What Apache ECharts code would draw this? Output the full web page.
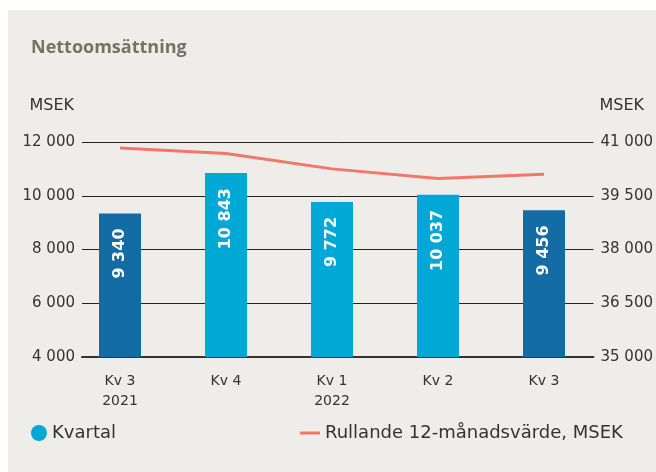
<!DOCTYPE html>
<html>
<head>
<meta charset="utf-8">
<script src="https://cdn.jsdelivr.net/npm/echarts@6/dist/echarts.min.js"></script>
<style>
html,body{margin:0;padding:0;background:#ffffff;}
#chart{position:absolute;left:8px;top:10px;width:648px;height:462px;background:#efedea;}
</style>
</head>
<body>
<div id="chart"></div>
<script>
var categories = ['Kv 3\n2021', 'Kv 4', 'Kv 1\n2022', 'Kv 2', 'Kv 3'];
var quarterValues = [9340, 10843, 9772, 10037, 9456];
var rollingValues = [40830, 40680, 40250, 39980, 40100];
var leftTicks = {min: 4000, max: 12000, interval: 2000};
var rightTicks = {min: 35000, max: 41000, interval: 1500};

function fmt(v) { return String(v).replace(/\B(?=(\d{3})+(?!\d))/g, ' '); }

var FONT = 'DejaVu Sans';
var TXT = '#333333';
var chart = echarts.init(document.getElementById('chart'), null, {renderer: 'canvas'});
chart.setOption({
  backgroundColor: '#efedea',
  animation: false,
  textStyle: {fontFamily: FONT},
  title: {
    text: 'Nettoomsättning', left: 18, top: 24,
    textStyle: {fontFamily: 'Open Sans', fontSize: 18, fontWeight: 'bold', color: '#7a706b'}
  },
  legend: [
    {data: ['Kvartal'], left: 23, top: 414, padding: 0, icon: 'circle', itemWidth: 16, itemHeight: 16,
     textStyle: {fontFamily: FONT, fontSize: 18, color: TXT}},
    {data: ['Rullande 12-månadsvärde, MSEK'], left: 292, top: 414, padding: 0, icon: 'rect', itemWidth: 20, itemHeight: 3,
     textStyle: {fontFamily: FONT, fontSize: 18, color: TXT}}
  ],
  grid: [
    {left: 59, right: 59, top: 132, bottom: 115},
    {left: 74, right: 59, top: 132, bottom: 115}
  ],
  xAxis: [
    {type: 'category', gridIndex: 0, data: categories,
     axisLine: {show: false}, axisTick: {show: false},
     axisLabel: {margin: 14, fontFamily: FONT, fontSize: 14, color: TXT, lineHeight: 20}},
    {type: 'value', gridIndex: 1, min: 0, max: 1, axisLabel: {show: false}, axisTick: {show: false},
     splitLine: {show: false}, axisLine: {show: true, lineStyle: {color: '#333333', width: 2}}}
  ],
  yAxis: [
    {type: 'value', gridIndex: 0, min: leftTicks.min, max: leftTicks.max, interval: leftTicks.interval, show: false},
    {type: 'value', gridIndex: 0, min: rightTicks.min, max: rightTicks.max, interval: rightTicks.interval, show: false},
    {type: 'value', gridIndex: 1, position: 'left', min: leftTicks.min, max: leftTicks.max, interval: leftTicks.interval,
     name: 'MSEK', nameLocation: 'end', nameGap: 28,
     nameTextStyle: {fontFamily: FONT, fontSize: 16, color: TXT, align: 'right', padding: [0, 8, 0, 0]},
     axisLine: {show: false}, axisTick: {show: false},
     axisLabel: {margin: 7, fontFamily: FONT, fontSize: 15, color: TXT, formatter: fmt},
     splitLine: {show: true, lineStyle: {color: '#222222', width: 1}}},
    {type: 'value', gridIndex: 1, position: 'right', min: rightTicks.min, max: rightTicks.max, interval: rightTicks.interval,
     name: 'MSEK', nameLocation: 'end', nameGap: 28,
     nameTextStyle: {fontFamily: FONT, fontSize: 16, color: TXT, align: 'left', padding: [0, 0, 0, 6]},
     axisLine: {show: false}, axisTick: {show: false},
     axisLabel: {margin: 7, fontFamily: FONT, fontSize: 15, color: TXT, formatter: fmt},
     splitLine: {show: false}}
  ],
  series: [
    {name: 'Kvartal', type: 'bar', xAxisIndex: 0, yAxisIndex: 0, data: quarterValues, barWidth: 42,
     color: '#00a8d5',
     itemStyle: {color: function (p) { return p.name.indexOf('Kv 3') === 0 ? '#136ca4' : '#00a8d5'; }},
     label: {show: true, position: 'insideTop', rotate: 90, align: 'right', verticalAlign: 'middle', distance: 15,
       fontFamily: FONT, fontSize: 16, fontWeight: 'bold', color: '#ffffff',
       formatter: function (p) { return fmt(p.value); }}},
    {name: 'Rullande 12-månadsvärde, MSEK', type: 'line', xAxisIndex: 0, yAxisIndex: 1, data: rollingValues,
     color: '#f2766a', symbol: 'none', lineStyle: {width: 3, color: '#f2766a'}, z: 5}
  ]
});
</script>
</body>
</html>
